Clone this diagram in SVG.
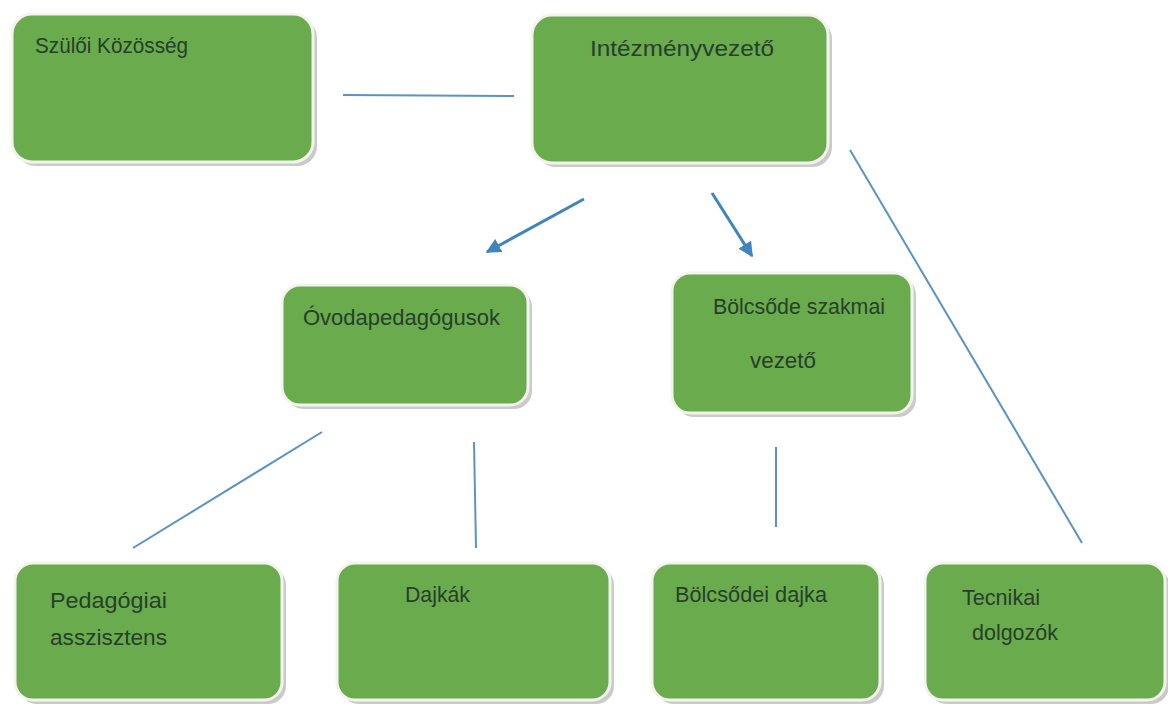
<svg xmlns="http://www.w3.org/2000/svg" width="1168" height="707" viewBox="0 0 1168 707">
<style>
.sh{fill:#bdbdbd;opacity:0.8}
.bx{fill:#6aab4e;stroke:#f4f4ee;stroke-width:3}
.t{font-family:"Liberation Sans",Arial,sans-serif;font-size:22px;fill:#26402a}
.ln{stroke:#5a93c4;stroke-width:2;fill:none}
.ar{stroke:#3f85bb;stroke-width:3;fill:none}
</style>
<defs>
<marker id="ah" viewBox="0 0 10 10" refX="9" refY="5" markerWidth="5" markerHeight="5" orient="auto">
<path d="M0,0 L10,5 L0,10 z" fill="#3f85bb"/>
</marker>
</defs>
<rect width="1168" height="707" fill="#ffffff"/>
<g id="connectors">
<line class="ln" x1="343" y1="95" x2="514" y2="96"/>
<line class="ar" x1="584" y1="199" x2="487" y2="252" marker-end="url(#ah)"/>
<line class="ar" x1="712" y1="193" x2="752" y2="256" marker-end="url(#ah)"/>
<line class="ln" x1="850" y1="150" x2="1082" y2="543"/>
<line class="ln" x1="322" y1="432" x2="133" y2="548"/>
<line class="ln" x1="474" y1="442" x2="476" y2="548"/>
<line class="ln" x1="776" y1="447" x2="776" y2="527"/>
</g>
<g id="n-szuloi">
<rect class="sh" x="16" y="18" width="301" height="148" rx="20"/>
<rect class="bx" x="12" y="14" width="301" height="148" rx="20"/>
<text class="t" x="35" y="53" textLength="153" lengthAdjust="spacingAndGlyphs">Szülői Közösség</text>
</g>
<g id="n-intezmeny">
<rect class="sh" x="536" y="19" width="296" height="148" rx="20"/>
<rect class="bx" x="532" y="15" width="296" height="148" rx="20"/>
<text class="t" x="590" y="56" textLength="184" lengthAdjust="spacingAndGlyphs">Intézményvezető</text>
</g>
<g id="n-ovoda">
<rect class="sh" x="286" y="289" width="246" height="120" rx="18"/>
<rect class="bx" x="282" y="285" width="246" height="120" rx="18"/>
<text class="t" x="303" y="325" textLength="197" lengthAdjust="spacingAndGlyphs">Óvodapedagógusok</text>
</g>
<g id="n-bolcsode">
<rect class="sh" x="676" y="277" width="240" height="140" rx="18"/>
<rect class="bx" x="672" y="273" width="240" height="140" rx="18"/>
<text class="t" x="713" y="314" textLength="172" lengthAdjust="spacingAndGlyphs">Bölcsőde szakmai</text>
<text class="t" x="750" y="368" textLength="66" lengthAdjust="spacingAndGlyphs">vezető</text>
</g>
<g id="n-pedasszisztens">
<rect class="sh" x="19" y="567" width="267" height="137" rx="18"/>
<rect class="bx" x="15" y="563" width="267" height="137" rx="18"/>
<text class="t" x="50" y="608" textLength="117" lengthAdjust="spacingAndGlyphs">Pedagógiai</text>
<text class="t" x="50" y="645" textLength="117" lengthAdjust="spacingAndGlyphs">asszisztens</text>
</g>
<g id="n-dajkak">
<rect class="sh" x="341" y="567" width="273" height="137" rx="18"/>
<rect class="bx" x="337" y="563" width="273" height="137" rx="18"/>
<text class="t" x="405" y="602" textLength="65" lengthAdjust="spacingAndGlyphs">Dajkák</text>
</g>
<g id="n-bolcsodei-dajka">
<rect class="sh" x="656" y="567" width="228" height="137" rx="18"/>
<rect class="bx" x="652" y="563" width="228" height="137" rx="18"/>
<text class="t" x="675" y="602" textLength="152" lengthAdjust="spacingAndGlyphs">Bölcsődei dajka</text>
</g>
<g id="n-tecnikai">
<rect class="sh" x="929" y="567" width="240" height="137" rx="18"/>
<rect class="bx" x="925" y="563" width="240" height="137" rx="18"/>
<text class="t" x="962" y="605" textLength="78" lengthAdjust="spacingAndGlyphs">Tecnikai</text>
<text class="t" x="972" y="640" textLength="86" lengthAdjust="spacingAndGlyphs">dolgozók</text>
</g>
</svg>
